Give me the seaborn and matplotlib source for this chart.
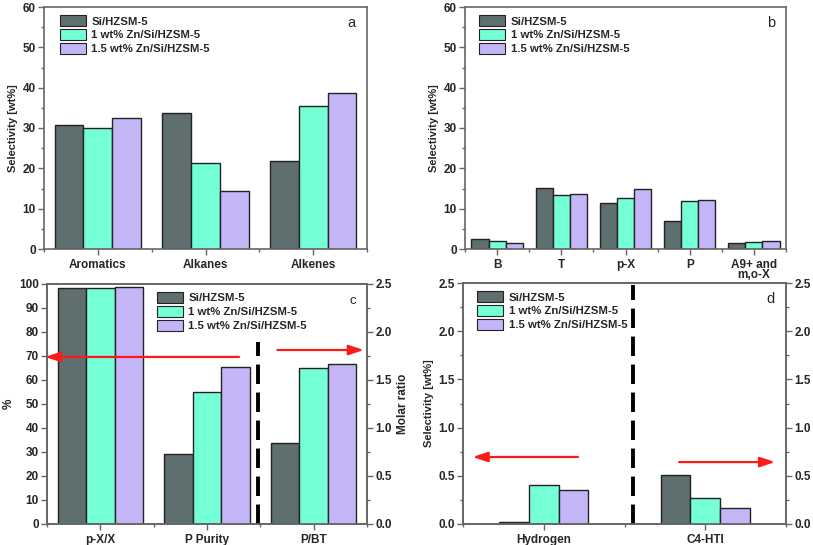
import matplotlib
matplotlib.use("Agg")
import matplotlib.pyplot as plt
import seaborn as sns
import pandas as pd
import numpy as np
from matplotlib.patches import Patch
from matplotlib.ticker import MultipleLocator, FixedLocator

# ---------------- data ----------------
catalysts = ["Si/HZSM-5", "1 wt% Zn/Si/HZSM-5", "1.5 wt% Zn/Si/HZSM-5"]
colors = ["#5f6e6e", "#74ffd6", "#c4b6f6"]

cats_a = ["Aromatics", "Alkanes", "Alkenes"]
vals_a = {
    "Si/HZSM-5": [30.8, 33.7, 21.9],
    "1 wt% Zn/Si/HZSM-5": [30.0, 21.2, 35.5],
    "1.5 wt% Zn/Si/HZSM-5": [32.5, 14.5, 38.6],
}

cats_b = ["B", "T", "p-X", "P", "A9+ and\nm,o-X"]
vals_b = {
    "Si/HZSM-5": [2.6, 15.1, 11.3, 7.0, 1.4],
    "1 wt% Zn/Si/HZSM-5": [2.0, 13.4, 12.7, 11.9, 1.8],
    "1.5 wt% Zn/Si/HZSM-5": [1.6, 13.6, 14.9, 12.1, 2.0],
}

cats_c = ["p-X/X", "P Purity", "P/BT"]
cats_c_left = ["p-X/X", "P Purity"]          # % (left axis)
vals_c_left = {
    "Si/HZSM-5": [98.3, 29.0],
    "1 wt% Zn/Si/HZSM-5": [98.4, 55.0],
    "1.5 wt% Zn/Si/HZSM-5": [98.7, 65.4],
}
cats_c_right = ["P/BT"]                     # molar ratio (right axis)
vals_c_right = {
    "Si/HZSM-5": [0.84],
    "1 wt% Zn/Si/HZSM-5": [1.62],
    "1.5 wt% Zn/Si/HZSM-5": [1.67],
}

cats_d = ["Hydrogen", "C4-HTI"]
cats_d_left = ["Hydrogen"]
vals_d_left = {
    "Si/HZSM-5": [0.02],
    "1 wt% Zn/Si/HZSM-5": [0.40],
    "1.5 wt% Zn/Si/HZSM-5": [0.35],
}
cats_d_right = ["C4-HTI"]
vals_d_right = {
    "Si/HZSM-5": [0.51],
    "1 wt% Zn/Si/HZSM-5": [0.27],
    "1.5 wt% Zn/Si/HZSM-5": [0.17],
}


def to_long(cats, vals):
    rows = []
    for cat_name in catalysts:
        for c, v in zip(cats, vals[cat_name]):
            rows.append({"cat": c, "catalyst": cat_name, "value": v})
    return pd.DataFrame(rows)


# ---------------- style ----------------
sns.set_style("ticks")
plt.rcParams["font.family"] = ["Liberation Sans", "DejaVu Sans"]
plt.rcParams["font.weight"] = "bold"
spine_col = "#666666"
TICK_FS = 8.5
LEG_FS = 8.2
palette = dict(zip(catalysts, colors))

fig = plt.figure(figsize=(8.13, 5.45), dpi=100)

W, H = 813, 545


def px_axes(l, r, t, b):
    return fig.add_axes([l / W, 1 - b / H, (r - l) / W, (b - t) / H])


ax_a = px_axes(44, 367, 7, 249)
ax_b = px_axes(465, 786, 7, 249)
ax_c = px_axes(47, 367, 284, 524)
ax_d = px_axes(463, 786, 283, 524)


def bars(ax, df, order, width=0.8):
    sns.barplot(data=df, x="cat", y="value", hue="catalyst", order=order,
                hue_order=catalysts, palette=palette, width=width,
                edgecolor="#222222", linewidth=1.0, saturation=1,
                legend=False, ax=ax, errorbar=None)


def style_axes(ax, n, ylim, major, minor):
    ax.set_xlim(-0.5, n - 0.5)
    ax.set_ylim(*ylim)
    ax.yaxis.set_major_locator(MultipleLocator(major))
    ax.yaxis.set_minor_locator(MultipleLocator(minor))
    ax.xaxis.set_minor_locator(FixedLocator(np.arange(-0.5, n, 1.0)))
    for s in ax.spines.values():
        s.set_visible(True)
        s.set_color(spine_col)
        s.set_linewidth(1.2)
    ax.tick_params(axis="both", which="major", direction="out", length=4,
                   width=1.0, color=spine_col, labelsize=TICK_FS, pad=2)
    ax.tick_params(axis="both", which="minor", direction="out", length=2,
                   width=1.0, color=spine_col)
    ax.tick_params(axis="x", labelsize=8.5, pad=3)
    ax.set_xlabel("")
    for lab in ax.get_yticklabels() + ax.get_xticklabels():
        lab.set_fontweight("bold")


def style_right(ax2, ylim, major, minor, n):
    ax2.set_xlim(-0.5, n - 0.5)
    ax2.set_ylim(*ylim)
    ax2.yaxis.set_major_locator(MultipleLocator(major))
    ax2.yaxis.set_minor_locator(MultipleLocator(minor))
    ax2.tick_params(axis="y", which="major", direction="out", length=4, width=1.0,
                    color=spine_col, labelsize=TICK_FS, pad=2)
    ax2.tick_params(axis="y", which="minor", direction="out", length=2, width=1.0,
                    color=spine_col)
    for s in ax2.spines.values():
        s.set_color(spine_col)
        s.set_linewidth(1.2)
    for lab in ax2.get_yticklabels():
        lab.set_fontweight("bold")


def legend(ax, anchor):
    handles = [Patch(facecolor=c, edgecolor="#222222", linewidth=0.8, label=l)
               for l, c in zip(catalysts, colors)]
    leg = ax.legend(handles=handles, loc="upper left", bbox_to_anchor=anchor,
                    frameon=False, fontsize=LEG_FS, handlelength=2.3,
                    handleheight=1.1, handletextpad=0.45, labelspacing=0.22,
                    borderaxespad=0)
    for t in leg.get_texts():
        t.set_fontweight("bold")


ARROW = dict(arrowstyle="-|>,head_length=0.9,head_width=0.3",
             color="#ff1a1a", lw=1.6, shrinkA=0, shrinkB=0)

# ---- a ----
bars(ax_a, to_long(cats_a, vals_a), cats_a)
style_axes(ax_a, 3, (0, 60), 10, 5)
ax_a.set_ylabel("Selectivity [wt%]", fontsize=8, fontweight="bold", labelpad=3)
legend(ax_a, (0.035, 0.985))
ax_a.text(0.965, 0.935, "a", transform=ax_a.transAxes, fontsize=10.5,
          fontweight="normal", ha="right", va="center")

# ---- b ----
bars(ax_b, to_long(cats_b, vals_b), cats_b)
style_axes(ax_b, 5, (0, 60), 10, 5)
ax_b.set_ylabel("Selectivity [wt%]", fontsize=8, fontweight="bold", labelpad=3)
for lab in ax_b.get_xticklabels():
    lab.set_linespacing(0.8)
legend(ax_b, (0.03, 0.985))
ax_b.text(0.965, 0.935, "b", transform=ax_b.transAxes, fontsize=10.5,
          fontweight="normal", ha="right", va="center")

# ---- c ----
bars(ax_c, to_long(cats_c_left, vals_c_left), cats_c)
style_axes(ax_c, 3, (0, 100), 10, 5)
ax_c.yaxis.set_minor_locator(MultipleLocator(10))
ax_c.set_ylabel("%", fontsize=8.5, fontweight="bold", labelpad=3)
ax_c2 = ax_c.twinx()
bars(ax_c2, to_long(cats_c_right, vals_c_right), cats_c)
style_right(ax_c2, (0, 2.5), 0.5, 0.25, 3)
ax_c2.set_ylabel("Molar ratio", fontsize=8.5, fontweight="bold", labelpad=4)
legend(ax_c2, (0.33, 0.985))
ax_c2.text(0.965, 0.93, "c", transform=ax_c2.transAxes, fontsize=9.5,
           fontweight="normal", ha="right", va="center")
ax_c2.plot([0.66, 0.66], [0.0, 0.76], transform=ax_c2.transAxes, color="black",
           lw=2.8, ls=(0, (5, 2.2)))
ax_c2.annotate("", xy=(-0.006, 0.696), xytext=(0.60, 0.696),
               xycoords="axes fraction", textcoords="axes fraction",
               arrowprops=ARROW)
ax_c2.annotate("", xy=(0.99, 0.725), xytext=(0.72, 0.725),
               xycoords="axes fraction", textcoords="axes fraction",
               arrowprops=ARROW)

# ---- d ----
bars(ax_d, to_long(cats_d_left, vals_d_left), cats_d, width=0.55)
style_axes(ax_d, 2, (0, 2.5), 0.5, 0.25)
ax_d.set_ylabel("Selectivity [wt%]", fontsize=8, fontweight="bold", labelpad=3)
ax_d2 = ax_d.twinx()
bars(ax_d2, to_long(cats_d_right, vals_d_right), cats_d, width=0.55)
style_right(ax_d2, (0, 2.5), 0.5, 0.25, 2)
ax_d2.set_ylabel("")
legend(ax_d2, (0.03, 0.985))
ax_d2.text(0.965, 0.935, "d", transform=ax_d2.transAxes, fontsize=10.5,
           fontweight="normal", ha="right", va="center")
ax_d2.plot([0.526, 0.526], [0.0, 0.99], transform=ax_d2.transAxes, color="black",
           lw=2.8, ls=(0, (5, 2.2)))
ax_d2.annotate("", xy=(0.03, 0.278), xytext=(0.356, 0.278),
               xycoords="axes fraction", textcoords="axes fraction",
               arrowprops=ARROW)
ax_d2.annotate("", xy=(0.966, 0.257), xytext=(0.669, 0.257),
               xycoords="axes fraction", textcoords="axes fraction",
               arrowprops=ARROW)

fig.savefig("out.png", dpi=100)
